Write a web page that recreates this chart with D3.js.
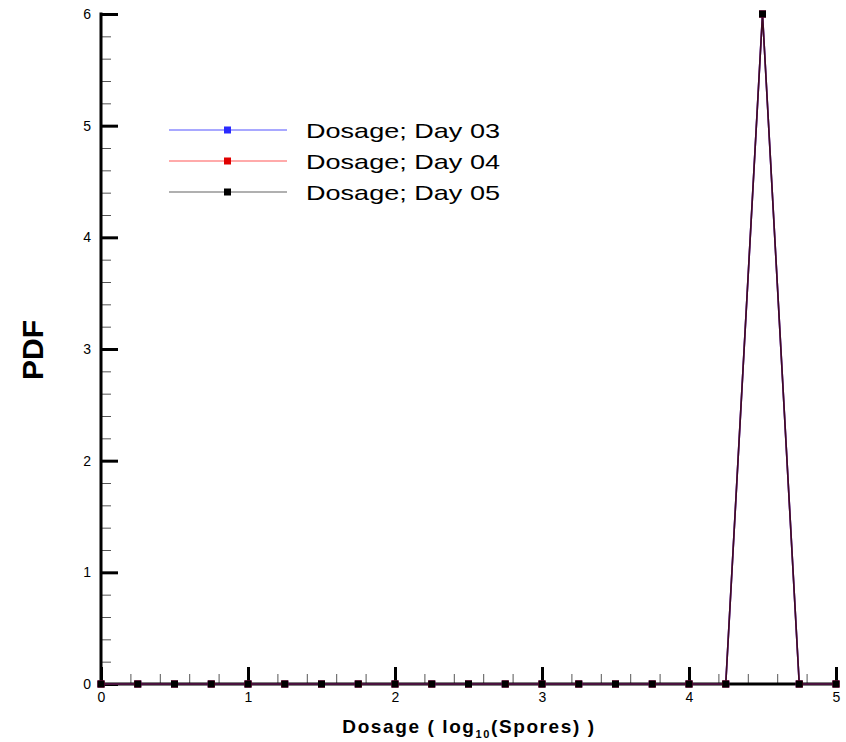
<!DOCTYPE html>
<html>
<head>
<meta charset="utf-8">
<script src="https://cdn.jsdelivr.net/npm/d3@7"></script>
<style>
  body { margin: 0; background: #fff; }
  text { font-family: "Liberation Sans", Arial, sans-serif; }
</style>
</head>
<body>
<svg id="chart" width="846" height="742"></svg>
<script>
// data (log10 spores vs PDF), all three days overlap
var dosage = [0, 0.25, 0.5, 0.75, 1, 1.25, 1.5, 1.75, 2, 2.25, 2.5, 2.75, 3, 3.25, 3.5, 3.75, 4, 4.25, 4.5, 4.75, 5];
var day03 = [0, 0, 0, 0, 0, 0, 0, 0, 0, 0, 0, 0, 0, 0, 0, 0, 0, 0, 6, 0, 0];
var day04 = [0, 0, 0, 0, 0, 0, 0, 0, 0, 0, 0, 0, 0, 0, 0, 0, 0, 0, 6, 0, 0];
var day05 = [0, 0, 0, 0, 0, 0, 0, 0, 0, 0, 0, 0, 0, 0, 0, 0, 0, 0, 6, 0, 0];
var seriesNames = ["Dosage; Day 03", "Dosage; Day 04", "Dosage; Day 05"];
var xTicks = [0, 1, 2, 3, 4, 5];
var yTicks = [0, 1, 2, 3, 4, 5, 6];

var series = [
  {name: seriesNames[0], vals: day03, line: "#a8a8ff", mark: "#2a2aff", dline: "#4040ff"},
  {name: seriesNames[1], vals: day04, line: "#ffaaaa", mark: "#e00000", dline: "#b02060"},
  {name: seriesNames[2], vals: day05, line: "#b0b0b0", mark: "#000000", dline: "#000000"}
];

var svg = d3.select("#chart");

// scales
var xScale = d3.scaleLinear().domain([0, 5]).range([101, 836]);
var yScale = d3.scaleLinear().domain([0, 6]).range([684, 14]);

var minorX = d3.range(0, 50).map(function(i){ return i / 10; }).filter(function(v){ return Math.round(v * 10) % 2 === 0 && Math.round(v * 10) % 10 !== 0; });
var minorY = d3.range(0, 60).map(function(i){ return i / 10; }).filter(function(v){ return Math.round(v * 10) % 2 === 0 && Math.round(v * 10) % 10 !== 0; });

// minor ticks
svg.append("g")
  .attr("transform", "translate(0," + yScale(0) + ")")
  .call(d3.axisBottom(xScale).tickValues(minorX).tickSize(-10).tickFormat(""))
  .call(function(g){ g.select(".domain").remove(); g.selectAll("line").attr("stroke", "#555").attr("stroke-width", 1); });

svg.append("g")
  .attr("transform", "translate(" + xScale(0) + ",0)")
  .call(d3.axisLeft(yScale).tickValues(minorY).tickSize(-10).tickFormat(""))
  .call(function(g){ g.select(".domain").remove(); g.selectAll("line").attr("stroke", "#555").attr("stroke-width", 1); });

// major ticks + labels
svg.append("g")
  .attr("transform", "translate(0," + yScale(0) + ")")
  .call(d3.axisBottom(xScale).tickValues(xTicks).tickSize(-17).tickPadding(8).tickFormat(d3.format("d")))
  .call(function(g){
    g.select(".domain").remove();
    g.selectAll("line").attr("stroke", "#000").attr("stroke-width", 3);
    g.selectAll("text").attr("font-size", 14).attr("fill", "#000")
      .style("font-family", "'Liberation Sans', Arial, sans-serif");
  });

svg.append("g")
  .attr("transform", "translate(" + xScale(0) + ",0)")
  .call(d3.axisLeft(yScale).tickValues(yTicks).tickSize(-17).tickPadding(10).tickFormat(d3.format("d")))
  .call(function(g){
    g.select(".domain").remove();
    g.selectAll("line").attr("stroke", "#000").attr("stroke-width", 3);
    g.selectAll("text").attr("font-size", 14).attr("fill", "#000")
      .style("font-family", "'Liberation Sans', Arial, sans-serif");
  });

// axis lines
svg.append("line")
  .attr("x1", xScale(0)).attr("x2", xScale(5))
  .attr("y1", yScale(0)).attr("y2", yScale(0))
  .attr("stroke", "#000").attr("stroke-width", 3);
svg.append("line")
  .attr("x1", xScale(0)).attr("x2", xScale(0))
  .attr("y1", yScale(0) + 1.5).attr("y2", yScale(6) - 1.5)
  .attr("stroke", "#000").attr("stroke-width", 3);

// data lines
var line = d3.line()
  .x(function(d, i){ return xScale(dosage[i]); })
  .y(function(d){ return yScale(d); });

series.forEach(function(s, k){
  svg.append("path")
    .datum(s.vals)
    .attr("d", line)
    .attr("fill", "none")
    .attr("stroke", s.dline)
    .attr("stroke-width", 1.6)
    .attr("opacity", k === 2 ? 0.65 : 1);
});

// markers
series.forEach(function(s){
  svg.append("g").selectAll("rect")
    .data(s.vals)
    .enter().append("rect")
    .attr("x", function(d, i){ return xScale(dosage[i]) - 3.5; })
    .attr("y", function(d){ return yScale(d) - 3.5; })
    .attr("width", 7)
    .attr("height", 7)
    .attr("fill", s.mark);
});

// legend
var lg = svg.append("g");
series.forEach(function(s, k){
  var yy = 130 + k * 31;
  lg.append("line")
    .attr("x1", 169).attr("x2", 287)
    .attr("y1", yy).attr("y2", yy)
    .attr("stroke", s.line).attr("stroke-width", 2);
  lg.append("rect")
    .attr("x", 224).attr("y", yy - 3.5)
    .attr("width", 7).attr("height", 7)
    .attr("fill", s.mark);
  lg.append("text")
    .attr("x", 306).attr("y", yy + 8)
    .attr("font-size", 21)
    .attr("textLength", 194)
    .attr("lengthAdjust", "spacingAndGlyphs")
    .attr("fill", "#000")
    .text(s.name);
});

// y axis title
svg.append("text")
  .attr("transform", "translate(43,350) rotate(-90)")
  .attr("text-anchor", "middle")
  .attr("font-size", 30)
  .attr("font-weight", "bold")
  .text("PDF");

// x axis title
var xt = svg.append("text")
  .attr("x", 469)
  .attr("y", 733)
  .attr("text-anchor", "middle")
  .attr("font-size", 19)
  .attr("letter-spacing", 1.6)
  .attr("font-weight", "bold");
xt.append("tspan").text("Dosage ( log");
xt.append("tspan").attr("font-size", 11).attr("dy", 5).text("10");
xt.append("tspan").attr("dy", -5).text("(Spores) )");
</script>
</body>
</html>
